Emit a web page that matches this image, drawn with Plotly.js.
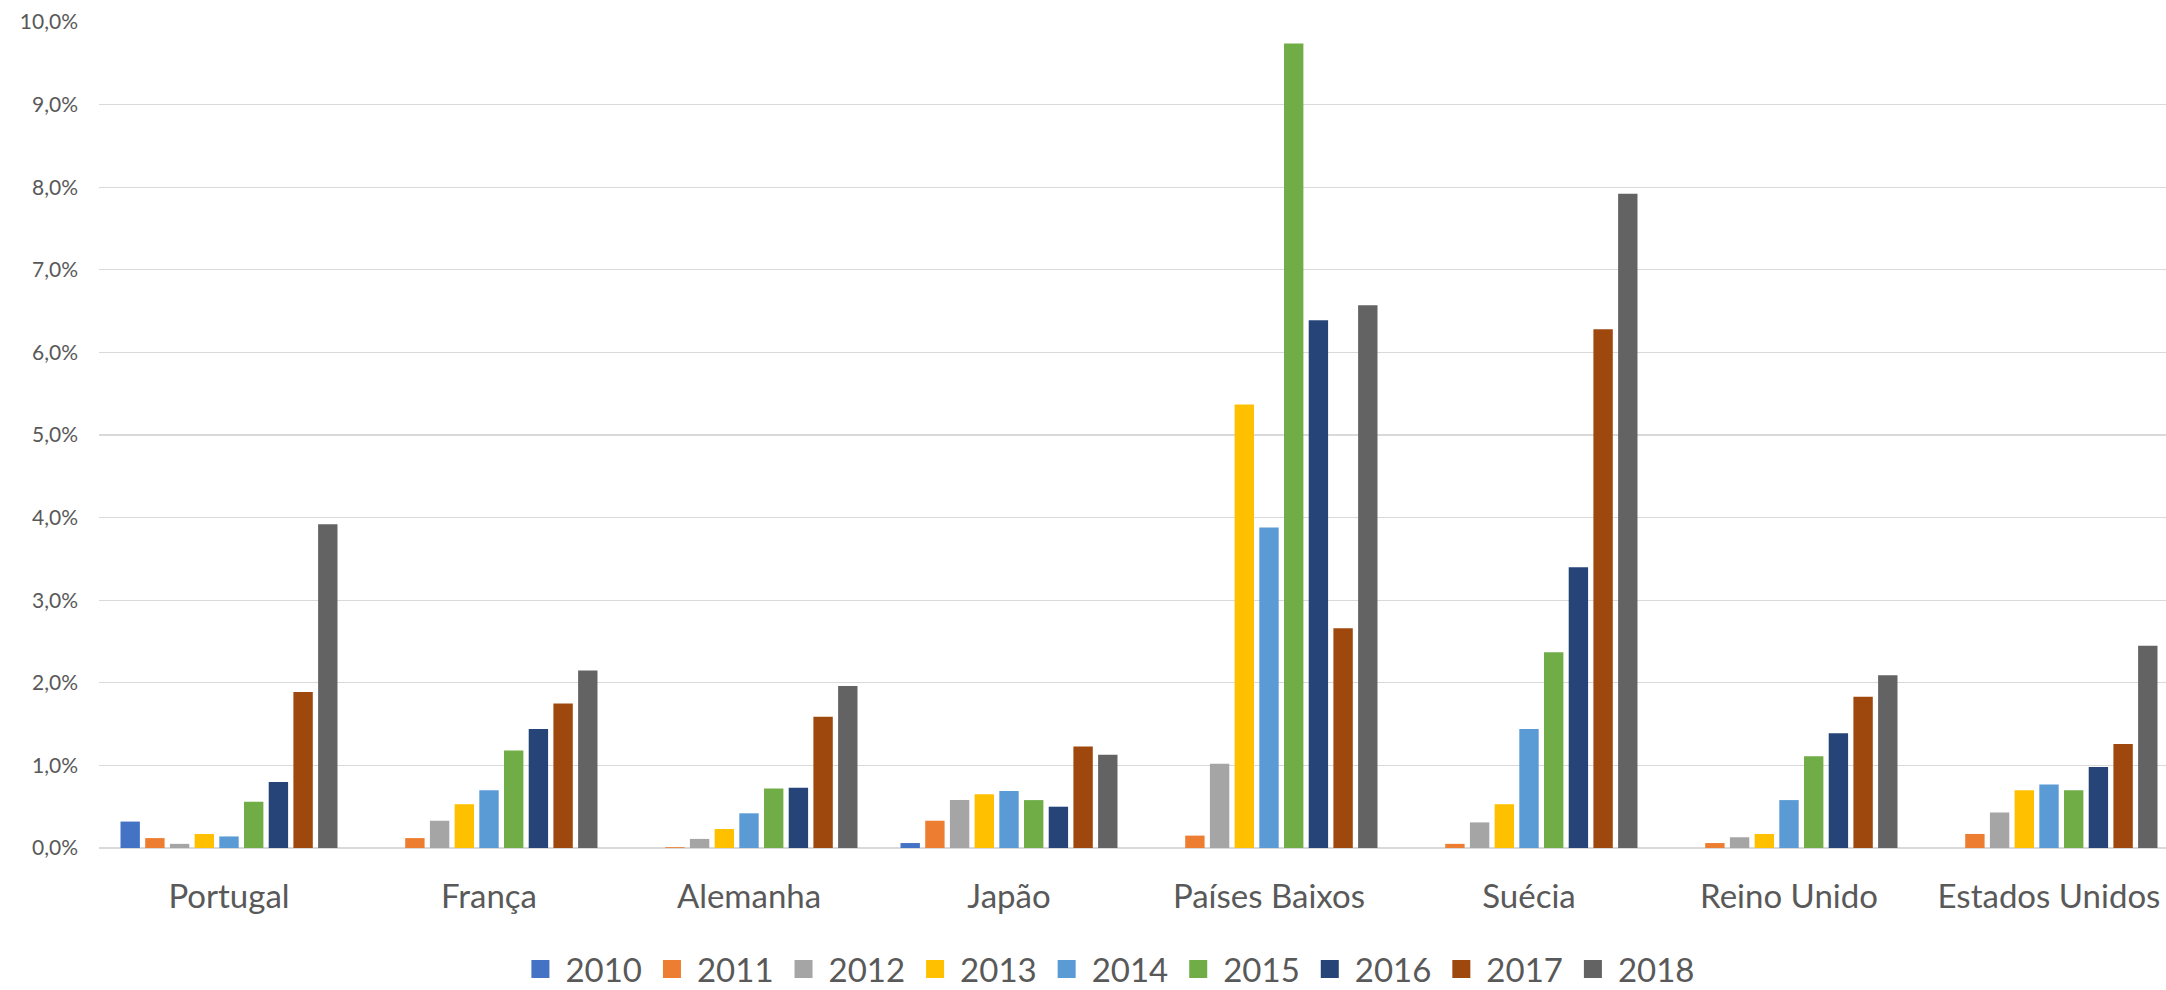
<!DOCTYPE html>
<html><head><meta charset="utf-8">
<script src="https://cdn.plot.ly/plotly-3.0.1.min.js"></script>
<style>html,body{margin:0;padding:0;background:#fff;} #chart{width:2166px;height:990px;}</style>
</head><body><div id="chart"></div>
<script>
const categories = ["Portugal","França","Alemanha","Japão","Países Baixos","Suécia","Reino Unido","Estados Unidos"];
const years = ["2010","2011","2012","2013","2014","2015","2016","2017","2018"];
const colors = ["#4472C4","#ED7D31","#A5A5A5","#FFC000","#5B9BD5","#70AD47","#264478","#9E480E","#636363"];
// values in %
const v2010 = [0.32, null, null, 0.06, null, null, null, null];
const v2011 = [0.12, 0.12, 0.01, 0.33, 0.15, 0.05, 0.06, 0.17];
const v2012 = [0.05, 0.33, 0.11, 0.58, 1.02, 0.31, 0.13, 0.43];
const v2013 = [0.17, 0.53, 0.23, 0.65, 5.37, 0.53, 0.17, 0.70];
const v2014 = [0.14, 0.70, 0.42, 0.69, 3.88, 1.44, 0.58, 0.77];
const v2015 = [0.56, 1.18, 0.72, 0.58, 9.74, 2.37, 1.11, 0.70];
const v2016 = [0.80, 1.44, 0.73, 0.50, 6.39, 3.40, 1.39, 0.98];
const v2017 = [1.89, 1.75, 1.59, 1.23, 2.66, 6.28, 1.83, 1.26];
const v2018 = [3.92, 2.15, 1.96, 1.13, 6.57, 7.92, 2.09, 2.45];
const series = [v2010, v2011, v2012, v2013, v2014, v2015, v2016, v2017, v2018];

const traces = series.map((vals, i) => ({
  type: 'bar',
  name: years[i],
  x: categories,
  y: vals,
  marker: {color: colors[i], line: {width: 0}}
}));

const layout = {
  width: 2166, height: 990,
  margin: {l: 99, r: 0, t: 22, b: 142, pad: 0, autoexpand: false},
  barmode: 'group', bargap: 0.145, bargroupgap: 0.215,
  separators: ',.',
  paper_bgcolor: '#ffffff', plot_bgcolor: '#ffffff',
  font: {family: 'Lato, sans-serif', color: '#595959'},
  xaxis: {type: 'category', range: [-0.5, 7.45], showgrid: false, showline: false, zeroline: false,
          automargin: false,
          ticks: '', tickfont: {size: 33, color: '#595959'}, ticklabelstandoff: 26, fixedrange: true},
  yaxis: {range: [0, 10], dtick: 1, tick0: 0, tickformat: '.1f', ticksuffix: '%',
          automargin: false,
          showgrid: true, gridcolor: '#D9D9D9', gridwidth: 1.3,
          zeroline: true, zerolinecolor: '#D9D9D9', zerolinewidth: 1.3, showline: false,
          ticks: '', tickfont: {size: 21, color: '#595959'}, ticklabelstandoff: 20, fixedrange: true},
  showlegend: true,
  legend: {orientation: 'h', xref: 'container', x: 0.5115, xanchor: 'center',
           yref: 'container', y: 0, yanchor: 'bottom',
           font: {size: 33, color: '#595959'}, itemwidth: 40,
           traceorder: 'normal', bgcolor: 'rgba(0,0,0,0)'}
};

Plotly.newPlot('chart', traces, layout, {staticPlot: true, displayModeBar: false}).then(() => {
  // enlarge legend swatches, keeping their existing placement
  document.querySelectorAll('.legend .legendpoints path').forEach(p => {
    const t = p.getAttribute('transform') || '';
    p.setAttribute('transform', t + ' scale(1.5)');
  });
  // nudge the whole legend slightly lower, like the reference
  const lg = document.querySelector('g.legend');
  if (lg) {
    const t = lg.getAttribute('transform') || '';
    const m = t.match(/translate\(\s*([-\d.]+)[ ,]+([-\d.]+)\s*\)/);
    if (m) lg.setAttribute('transform', 'translate(' + m[1] + ',' + (parseFloat(m[2]) + 7) + ')');
  }
});
</script>
</body></html>
